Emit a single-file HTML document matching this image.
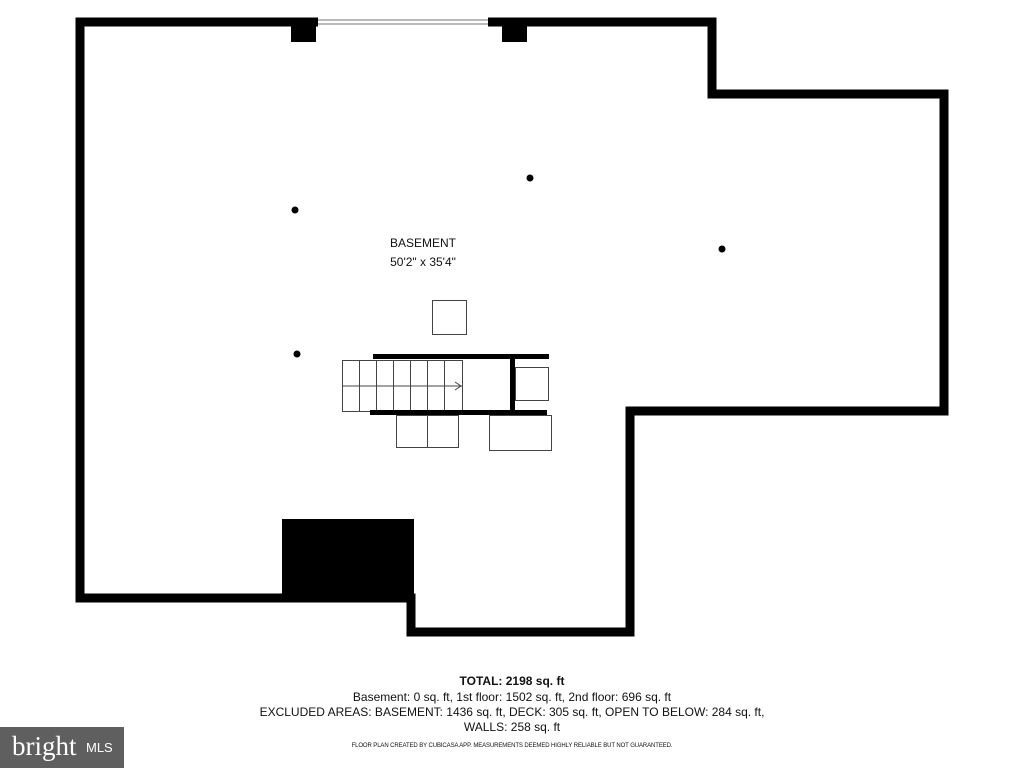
<!DOCTYPE html>
<html><head><style>
body{margin:0;background:#fff;width:1024px;height:768px;overflow:hidden;position:relative;font-family:"Liberation Sans",sans-serif}
.t{position:absolute;left:0;width:1024px;text-align:center;color:#111}
</style></head><body>
<svg width="1024" height="768" style="position:absolute;left:0;top:0">
<path d="M80 22 H712 V94 H944 V411 H630 V632 H411 V598 H80 Z" fill="none" stroke="#000" stroke-width="9" stroke-linejoin="miter"/>
<rect x="318" y="17" width="170" height="10" fill="#fff"/>
<line x1="318" y1="20" x2="488" y2="20" stroke="#777" stroke-width="1"/>
<line x1="318" y1="24" x2="488" y2="24" stroke="#777" stroke-width="1"/>
<rect x="291" y="22" width="25" height="20" fill="#000"/>
<rect x="502" y="22" width="25" height="20" fill="#000"/>
<rect x="282" y="519" width="132" height="81" fill="#000"/>
<circle cx="295" cy="210" r="3.5"/><circle cx="530" cy="178" r="3.5"/><circle cx="722" cy="249" r="3.5"/><circle cx="297" cy="354" r="3.5"/>
<g fill="none" stroke="#444" stroke-width="1">
<rect x="432.5" y="300.5" width="34" height="34"/>
<rect x="342.5" y="360.5" width="120" height="51"/>
<line x1="342" y1="386" x2="462" y2="386"/>
<line x1="359.5" y1="360" x2="359.5" y2="412"/><line x1="376.5" y1="360" x2="376.5" y2="412"/><line x1="393.5" y1="360" x2="393.5" y2="412"/><line x1="410.5" y1="360" x2="410.5" y2="412"/><line x1="427.5" y1="360" x2="427.5" y2="412"/><line x1="444.5" y1="360" x2="444.5" y2="412"/>
<path d="M455 382 L461 386 L455 390"/>
<rect x="396.5" y="415.5" width="62" height="32"/>
<line x1="427.5" y1="415" x2="427.5" y2="447"/>
<rect x="489.5" y="415.5" width="62" height="35"/>
<rect x="515.5" y="367.5" width="33" height="33"/>
</g>
<rect x="373" y="354" width="176" height="5" fill="#000"/>
<rect x="370" y="410" width="177" height="5" fill="#000"/>
<rect x="510" y="357" width="5" height="55" fill="#000"/>
</svg>
<div class="t" style="left:-601px;top:236px;font-size:12px;left:0;width:846px">BASEMENT</div>
<div class="t" style="top:255px;font-size:12px;width:846px">50'2" x 35'4"</div>
<div class="t" style="top:674px;font-size:12px;font-weight:bold;width:1024px">TOTAL: 2198 sq. ft</div>
<div class="t" style="top:690px;font-size:12px">Basement: 0 sq. ft, 1st floor: 1502 sq. ft, 2nd floor: 696 sq. ft</div>
<div class="t" style="top:705px;font-size:12px">EXCLUDED AREAS: BASEMENT: 1436 sq. ft, DECK: 305 sq. ft, OPEN TO BELOW: 284 sq. ft,</div>
<div class="t" style="top:720px;font-size:12px">WALLS: 258 sq. ft</div>
<div class="t" style="top:743px;font-size:6px;letter-spacing:-0.1px">FLOOR PLAN CREATED BY CUBICASA APP. MEASUREMENTS DEEMED HIGHLY RELIABLE BUT NOT GUARANTEED.</div>
<div style="position:absolute;left:0;top:727px;width:124px;height:41px;background:#5f5f5f;color:#fff">
<span style="position:absolute;left:12px;top:4px;font-family:'Liberation Serif',serif;font-size:27px">bright</span>
<span style="position:absolute;left:86px;top:13px;font-size:13px">MLS</span>
</div>
</body></html>
